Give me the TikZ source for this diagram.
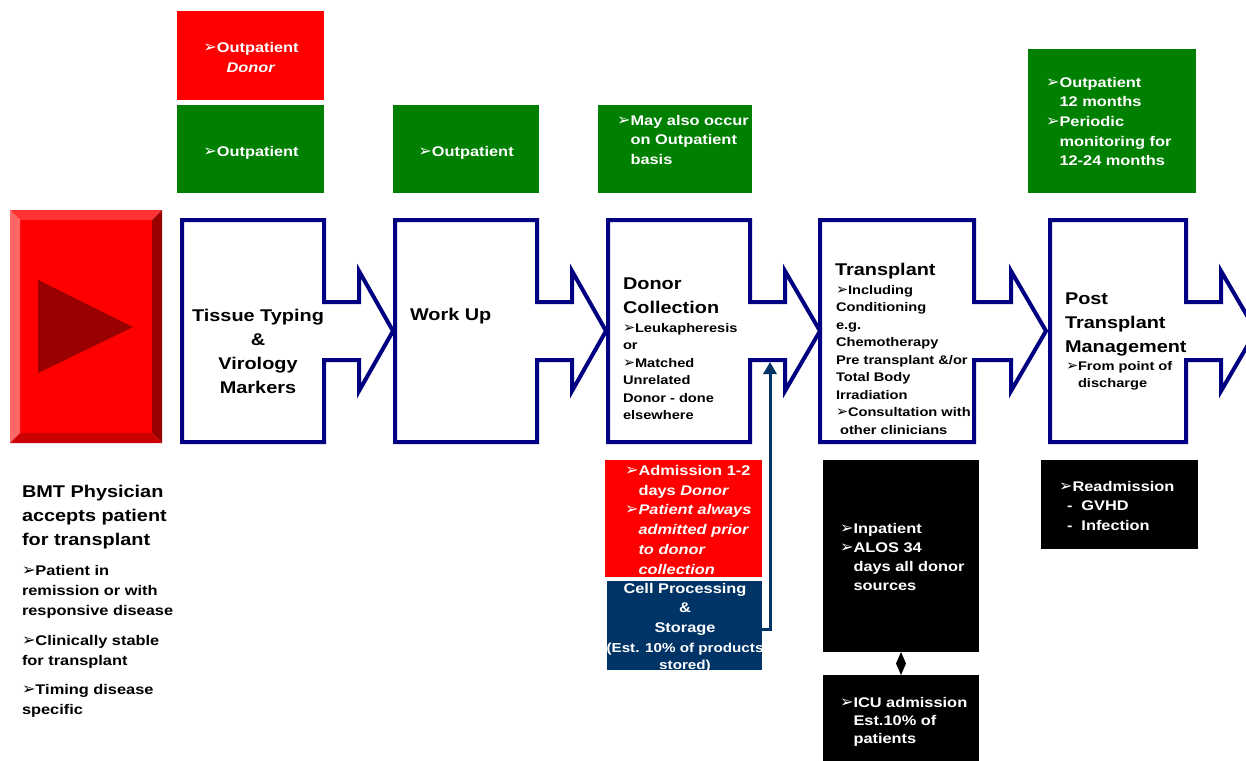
\documentclass[tikz,border=0pt]{standalone}
\usepackage{fontspec}
\usepackage{graphicx}
\setmainfont{Liberation Sans}[FakeStretch=1.17]
\newfontfamily\dingglyphs{DejaVu Sans}
\usetikzlibrary{arrows.meta}

\definecolor{navyline}{RGB}{0,0,128}
\definecolor{cellblue}{RGB}{0,51,102}
\definecolor{okgreen}{RGB}{0,128,0}
\definecolor{alertred}{RGB}{255,0,0}
\definecolor{bevtop}{RGB}{255,51,51}
\definecolor{bevleft}{RGB}{255,102,102}
\definecolor{bevright}{RGB}{153,0,0}
\definecolor{bevbottom}{RGB}{204,0,0}

% text sizes
\newcommand\titletxt{\fontsize{17}{24}\selectfont\bfseries}
\newcommand\notetxt{\fontsize{12.5}{17.5}\selectfont\bfseries}
\newcommand\boxtxt{\fontsize{14}{19.7}\selectfont\bfseries}
\newcommand\finetxt{\fontsize{13}{17}\selectfont\bfseries}

% bullet arrowhead and the matching indent
\newcommand\bulmark{\scalebox{1.15}{\dingglyphs ➢}}
\newcommand\bulgap{\hphantom{\bulmark}}

% one process stage: left, right, head x, tip x
\newcommand\stagearrow[4]{%
  \draw[stage] (#1,220) -- (#2,220) -- (#2,302) -- (#3,302) -- (#3,271) --
    (#4,331) -- (#3,391) -- (#3,360) -- (#2,360) -- (#2,442) -- (#1,442) -- cycle;}

% multi-line labels are placed by the baseline of their last line
\tikzset{
  stage/.style={draw=navyline, line width=4pt, fill=white},
  panel/.style={rectangle, inner sep=0pt, outer sep=0pt, anchor=north west},
  lbl/.style={inner sep=0pt, outer sep=0pt, align=left, anchor=base west},
  clbl/.style={inner sep=0pt, outer sep=0pt, align=center, anchor=base},
  feed/.style={draw=cellblue, line width=3pt, -{Triangle[length=12pt,width=13pt]}},
}

\begin{document}
\begin{tikzpicture}[x=1pt,y=-1pt]
\useasboundingbox (0,0) rectangle (1246,760);

% start button
\fill[alertred] (20,220) rectangle (152,433);
\fill[bevtop] (10,210) -- (162,210) -- (152,220) -- (20,220) -- cycle;
\fill[bevleft] (10,210) -- (20,220) -- (20,433) -- (10,443) -- cycle;
\fill[bevright] (162,210) -- (162,443) -- (152,433) -- (152,220) -- cycle;
\fill[bevbottom] (10,443) -- (162,443) -- (152,433) -- (20,433) -- cycle;
\fill[bevright] (38,280) -- (133,327) -- (38,373) -- cycle;

% entry criteria
\node[lbl, font=\titletxt] (bmt) at (22,545) {BMT Physician\\accepts patient\\for transplant};
\node[lbl, font=\boxtxt] (crit) at (22,714)
  {\bulmark Patient in\\remission or with\\responsive disease\\[11pt]%
   \bulmark Clinically stable\\for transplant\\[9pt]%
   \bulmark Timing disease\\specific};

% setting of care above the stages
\node[panel, fill=alertred, minimum width=147pt, minimum height=89pt] (donorout) at (177,11) {};
\node[clbl, font=\boxtxt, text=white] (donorouttxt) at (251,72) {\bulmark Outpatient\\\textit{Donor}};
\node[panel, fill=okgreen, minimum width=147pt, minimum height=88pt] (opa) at (177,105) {};
\node[clbl, font=\boxtxt, text=white] (opatxt) at (251,156) {\bulmark Outpatient};
\node[panel, fill=okgreen, minimum width=146pt, minimum height=88pt] (opb) at (393,105) {};
\node[clbl, font=\boxtxt, text=white] (opbtxt) at (466,156) {\bulmark Outpatient};
\node[panel, fill=okgreen, minimum width=154pt, minimum height=88pt] (opc) at (598,105) {};
\node[lbl, font=\boxtxt, text=white] (opctxt) at (617,164.4)
  {\bulmark May also occur\\\bulgap on Outpatient\\\bulgap basis};
\node[panel, fill=okgreen, minimum width=168pt, minimum height=144pt] (opd) at (1028,49) {};
\node[lbl, font=\boxtxt, text=white] (opdtxt) at (1046,165.8)
  {\bulmark Outpatient\\\bulgap 12 months\\\bulmark Periodic\\\bulgap monitoring for\\\bulgap 12-24 months};

% process stages
\stagearrow{182}{324}{359}{393}
\node[clbl, font=\titletxt] (tissue) at (258,393) {Tissue Typing\\\&\\Virology\\Markers};

\stagearrow{395}{537}{572}{606}
\node[lbl, font=\titletxt] (workup) at (410,320) {Work Up};

\stagearrow{608}{750}{785}{820}
\node[lbl, font=\titletxt] (donorcol) at (623,313) {Donor\\Collection};
\node[lbl, font=\notetxt] (donorcoltxt) at (623,419.5)
  {\bulmark Leukapheresis\\or\\\bulmark Matched\\Unrelated\\Donor - done\\elsewhere};
\coordinate (dcport) at (770,362);

\stagearrow{820}{974}{1011}{1046}
\node[lbl, font=\titletxt] (transplant) at (835,275) {Transplant};
\node[lbl, font=\notetxt] (transtxt) at (836,434)
  {\bulmark Including\\Conditioning\\e.g.\\Chemotherapy\\Pre transplant \&/or\\Total Body\\Irradiation\\\bulmark Consultation with\\\ other clinicians};

\stagearrow{1050}{1186}{1221}{1256}
\node[lbl, font=\titletxt] (post) at (1065,352) {Post\\Transplant\\Management};
\node[lbl, font=\notetxt] (posttxt) at (1066,387.5) {\bulmark From point of\\\bulgap discharge};

% admissions below the stages
\node[panel, fill=alertred, minimum width=157pt, minimum height=117pt] (admit) at (605,460) {};
\node[lbl, font=\boxtxt, text=white] (admittxt) at (625,574)
  {\bulmark Admission 1-2\\\bulgap days \textit{Donor}\\\bulmark\textit{Patient always}\\\bulgap\textit{admitted prior}\\\bulgap\textit{to donor}\\\bulgap\textit{collection}};

\node[panel, fill=cellblue, minimum width=155pt, minimum height=89pt] (cell) at (607,581) {};
\node[clbl, font=\boxtxt, text=white] (celltxt) at (685,632.4) {Cell Processing\\\&\\Storage};
\node[clbl, font=\finetxt, text=white] (cellnote) at (685,669) {(Est. 10\% of products\\stored)};

\node[panel, fill=black, minimum width=156pt, minimum height=192pt] (inp) at (823,460) {};
\node[lbl, text=white, font=\fontsize{14}{19}\selectfont\bfseries] (inptxt) at (840,590)
  {\bulmark Inpatient\\\bulmark ALOS 34\\\bulgap days all donor\\\bulgap sources};
\node[panel, fill=black, minimum width=156pt, minimum height=90pt] (icu) at (823,675) {};
\node[lbl, text=white, font=\fontsize{14}{18}\selectfont\bfseries] (icutxt) at (840,743)
  {\bulmark ICU admission\\\bulgap Est.10\% of\\\bulgap patients};

\node[panel, fill=black, minimum width=157pt, minimum height=89pt] (readm) at (1041,460) {};
\node[lbl, font=\boxtxt, text=white] (readmtxt) at (1059,530.4)
  {\bulmark Readmission\\\hspace*{8pt}-\hspace*{9pt}GVHD\\\hspace*{8pt}-\hspace*{9pt}Infection};

% links
\draw[feed] ([yshift=-3.5pt]cell.east) -| (dcport);
\fill (inp.south) -- ++(5,11.5) -- (icu.north) -- ++(-5,-11.5) -- cycle;
\end{tikzpicture}
\end{document}
